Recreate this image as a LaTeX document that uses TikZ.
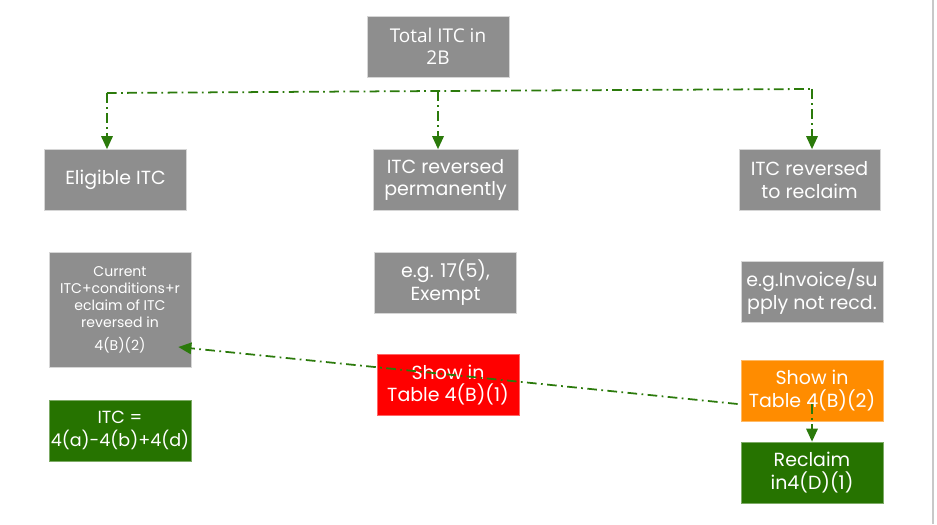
\documentclass[tikz,border=0pt]{standalone}
\usepackage{fontspec}
\setmainfont{Poppins}
\newfontfamily\fuentetitulo{Open Sans}
\usepackage{tikz}
\usetikzlibrary{arrows.meta,positioning}
\definecolor{gris}{HTML}{8E8E8E}
\definecolor{grisborde}{HTML}{D6D6D6}
\definecolor{verde}{HTML}{267300}
\definecolor{verdelinea}{HTML}{2B7A0B}
\definecolor{rojo}{HTML}{FF0000}
\definecolor{naranja}{HTML}{FF8C00}
\definecolor{borde}{HTML}{C8C8C8}
\tikzset{
  caja/.style={fill=gris,draw=grisborde,line width=0.4pt,text=white,align=center,inner sep=1pt,font=\fontsize{10.8}{12.8}\selectfont,minimum width=28.4mm,minimum height=12.2mm},
  cajaverde/.style={caja,fill=verde,draw=verde!60!white},
  cajaroja/.style={caja,fill=rojo,draw=rojo!60!white},
  cajanaranja/.style={caja,fill=naranja,draw=naranja!60!white},
  cajachica/.style={caja,font=\fontsize{8}{9.8}\selectfont,minimum height=23mm},
  linea/.style={verdelinea,line width=1pt,dash pattern=on 5.5pt off 2.5pt on 1pt off 2.5pt},
  flecha/.style={linea,-{Triangle[length=2.6mm,width=2.3mm]}},
}
\begin{document}
\begin{tikzpicture}
  \useasboundingbox (0,0) rectangle (18.74,-10.48);
  \draw[borde,line width=1pt] (18.66,0) -- (18.66,-10.48);
  % cabecera
  \node[caja] (total) at (8.76,-0.93) {\fuentetitulo Total ITC in\\\fuentetitulo 2B};
  % columnas
  \node[caja] (eleg) at (2.31,-3.6) {Eligible ITC};
  \node[caja,minimum width=29mm] (perm) at (8.91,-3.6) {ITC reversed\\permanently};
  \node[caja,minimum width=28.2mm] (recl) at (16.19,-3.6) {ITC reversed\\to reclaim};
  \node[cajachica] (actual) at (2.4,-6.19) {Current\\ITC+conditions+r\\eclaim of ITC\\reversed in\\[3pt]4(B)(2)};
  \node[cajaverde,font=\fontsize{10}{12.8}\selectfont] (itc) at (2.4,-8.61) {ITC =\\4(a)-4(b)+4(d)};
  \node[caja] (ejemplo1) at (8.91,-5.65) {e.g. 17(5),\\Exempt};
  \node[cajaroja] (tabla1) at (8.96,-7.7) {Show in\\Table 4(B)(1)};
  \node[caja] (ejemplo2) at (16.24,-5.83) {e.g.Invoice/su\\pply not recd.};
  \node[cajanaranja] (tabla2) at (16.24,-7.81) {Show in\\Table 4(B)(2)};
  \node[cajaverde] (recupera) at (16.24,-9.45) {Reclaim\\in4(D)(1)};
  % conectores
  \coordinate (j1) at (2.14,-1.86);
  \coordinate (j2) at (8.76,-1.82);
  \coordinate (j3) at (16.24,-1.78);
  \draw[linea] (j1) -- (j2) -- (j3);
  \draw[flecha] (j1) -- (j1 |- eleg.north);
  \draw[flecha] (j2) -- (j2 |- perm.north);
  \draw[flecha] (j3) -- (j3 |- recl.north);
  \coordinate (salida) at ([xshift=-0.6mm,yshift=-2.7mm]tabla2.west);
  \coordinate (punta) at ([xshift=-2.6mm,yshift=-7.5mm]actual.east);
  \draw[flecha] (salida) -- (punta);
  \draw[flecha] ([yshift=-2.7mm]tabla2.center) -- (recupera.north);
\end{tikzpicture}
\end{document}
